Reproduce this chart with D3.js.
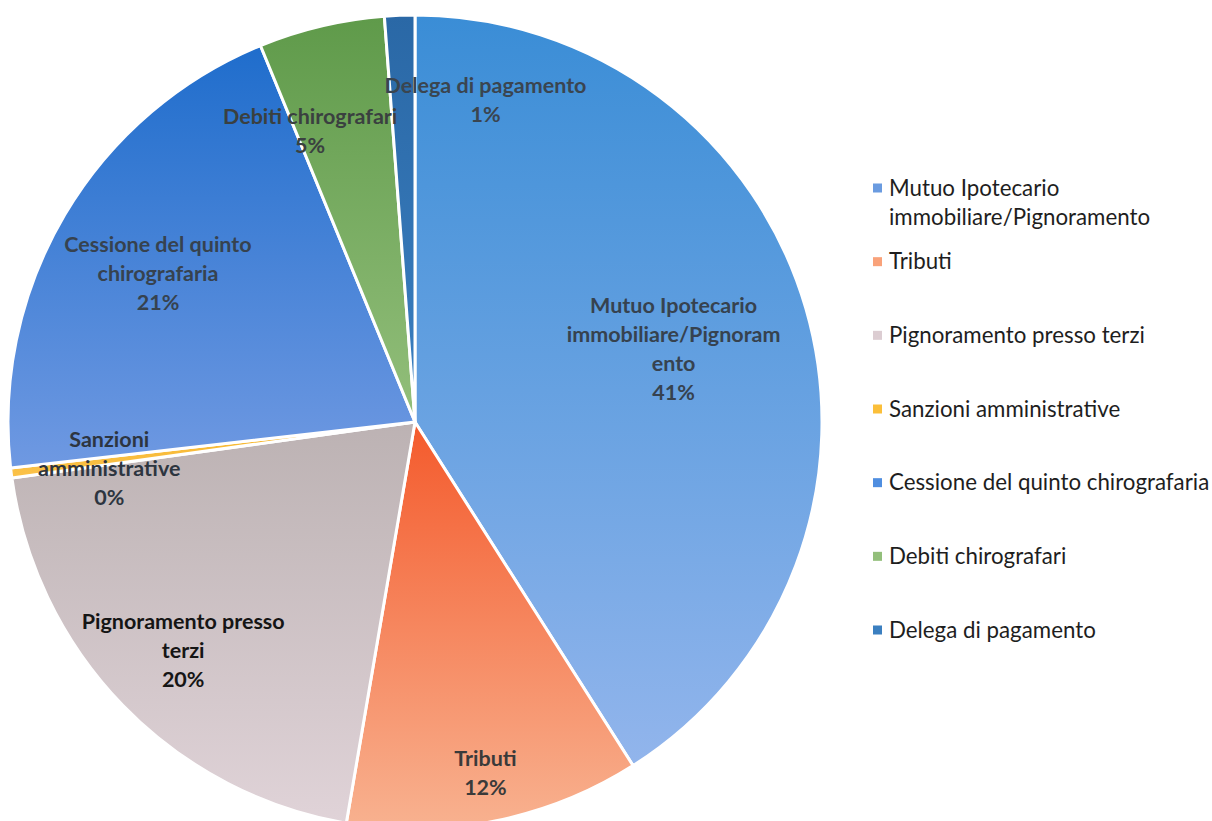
<!DOCTYPE html>
<html>
<head>
<meta charset="utf-8">
<script src="https://cdn.jsdelivr.net/npm/d3@7"></script>
<style>
  body { margin: 0; background: #fff; }
  svg { display: block; }
</style>
</head>
<body>
<svg id="chart" width="1212" height="821"></svg>
<script>
// data
let categories = ['Mutuo Ipotecario immobiliare/Pignoramento', 'Tributi', 'Pignoramento presso terzi',
  'Sanzioni amministrative', 'Cessione del quinto chirografaria', 'Debiti chirografari', 'Delega di pagamento'];
let shares = [41.0, 11.7, 20.1, 0.4, 20.6, 5.0, 1.2];
// how the data labels wrap inside the pie
let labelLines = [
  ['Mutuo Ipotecario', 'immobiliare/Pignoram', 'ento'],
  ['Tributi'],
  ['Pignoramento presso', 'terzi'],
  ['Sanzioni', 'amministrative'],
  ['Cessione del quinto', 'chirografaria'],
  ['Debiti chirografari'],
  ['Delega di pagamento']
];
let legendLines = [
  ['Mutuo Ipotecario', 'immobiliare/Pignoramento'],
  ['Tributi'], ['Pignoramento presso terzi'], ['Sanzioni amministrative'],
  ['Cessione del quinto chirografaria'], ['Debiti chirografari'], ['Delega di pagamento']
];

// styling
let topColors    = ['#3a8dd6', '#f45a2c', '#bcb2b3', '#f5b52a', '#1f6dcc', '#5f9a4a', '#2a68a6'];
let bottomColors = ['#92b5ec', '#f8b290', '#e0d3d8', '#fbc24a', '#6f99e2', '#93bf7b', '#3b7fc0'];
let legendColors = ['#6a9be0', '#f9a27a', '#dccdd2', '#fbbf3a', '#4f8ee0', '#93bf7b', '#3b7fc0'];
let labelColors  = ['#36424f', '#3a3a3a', '#151515', '#2d3540', '#36424f', '#3a4040', '#3a4550'];
let labelRadius  = [0.66, 0.88, 0.80, 0.76, 0.73, 0.76, 0.81];
let labelShift   = [0.5, 0, -0.5, -1.5, -0.5, -6.5, 14.5];   // degrees

let CX = 415, CY = 422, R = 407;
let svg = d3.select('#chart');
let defs = svg.append('defs');

categories.forEach((c, i) => {
  let g = defs.append('linearGradient')
    .attr('id', 'grad' + i)
    .attr('x1', 0).attr('y1', 0).attr('x2', 0).attr('y2', 1);
  g.append('stop').attr('offset', '0%').attr('stop-color', topColors[i]);
  g.append('stop').attr('offset', '100%').attr('stop-color', bottomColors[i]);
});

let pie = d3.pie().sort(null).value(d => d);
let arcs = pie(shares);
let arc = d3.arc().innerRadius(0).outerRadius(R);

let pieG = svg.append('g').attr('transform', `translate(${CX},${CY})`);

pieG.selectAll('path')
  .data(arcs)
  .join('path')
  .attr('d', arc)
  .attr('fill', (d, i) => `url(#grad${i})`)
  .attr('stroke', '#fff')
  .attr('stroke-width', 3)
  .attr('stroke-linejoin', 'round');

let fmt = v => Math.round(v) + '%';
let LINE_H = 29;

pieG.selectAll('text.lbl')
  .data(arcs)
  .join('text')
  .attr('class', 'lbl')
  .attr('text-anchor', 'middle')
  .attr('font-family', 'Lato, sans-serif')
  .attr('font-weight', 'bold')
  .attr('font-size', 21.5)
  .attr('fill', (d, i) => labelColors[i])
  .each(function(d, i) {
    let a = (d.startAngle + d.endAngle) / 2 + labelShift[i] * Math.PI / 180;
    let r = R * labelRadius[i];
    let x = Math.sin(a) * r, y = -Math.cos(a) * r;
    let lines = labelLines[i].concat([fmt(d.data)]);
    let y0 = y - (lines.length - 1) * LINE_H / 2;
    d3.select(this).selectAll('tspan')
      .data(lines)
      .join('tspan')
      .attr('x', x)
      .attr('y', (l, k) => y0 + k * LINE_H)
      .attr('dy', '0.35em')
      .text(l => l);
  });

// legend
let legendY = d3.scalePoint().domain(d3.range(categories.length)).range([188, 630]);
let legend = svg.append('g');
let items = legend.selectAll('g')
  .data(categories)
  .join('g')
  .attr('transform', (d, i) => `translate(873,${legendY(i)})`);

items.append('rect')
  .attr('x', 0).attr('y', -4.5)
  .attr('width', 9).attr('height', 9)
  .attr('fill', (d, i) => legendColors[i]);

items.append('text')
  .attr('font-family', 'Lato, sans-serif')
  .attr('font-size', 22.3)
  .attr('fill', '#1e1e1e')
  .each(function(d, i) {
    d3.select(this).selectAll('tspan')
      .data(legendLines[i])
      .join('tspan')
      .attr('x', 16)
      .attr('y', (l, k) => k * 29)
      .attr('dy', '0.35em')
      .text(l => l);
  });
</script>
</body>
</html>
